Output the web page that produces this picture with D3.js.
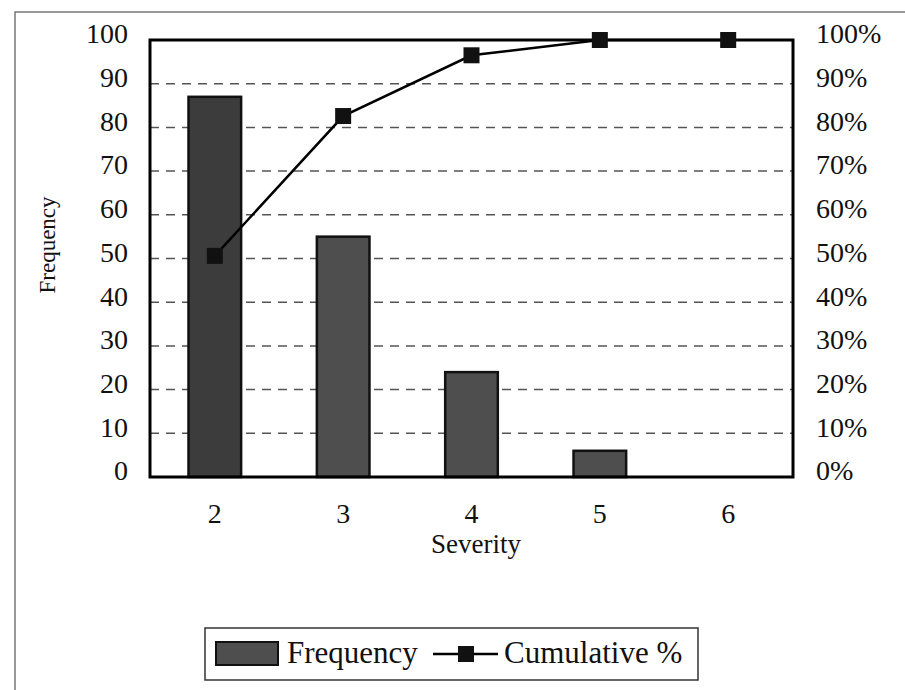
<!doctype html>
<html lang="en">
<head>
<meta charset="UTF-8">
<title>Pareto</title>
<script src="https://d3js.org/d3.v7.min.js"></script>
<style>
  body { margin: 0; background: #fff; }
  text { font-family: "Liberation Serif", "DejaVu Serif", serif; fill: #111; }
</style>
</head>
<body>
<div id="chart-area"></div>
<script>
// data
const severity = ['2', '3', '4', '5', '6'];
const frequency = [87, 55, 24, 6, 0];
const cumulative = [50.6, 82.6, 96.5, 100, 100];
const leftTicks = [0, 10, 20, 30, 40, 50, 60, 70, 80, 90, 100];
const rightTicks = [0, 10, 20, 30, 40, 50, 60, 70, 80, 90, 100];

const W = 905, H = 690;
const plot = { left: 150, right: 793, top: 40, bottom: 477 };

const svg = d3.select('#chart-area')
    .append('svg')
    .attr('width', W)
    .attr('height', H);

// outer frame
svg.append('rect')
    .attr('x', 15).attr('y', 12)
    .attr('width', 900).attr('height', 700)
    .attr('fill', 'none')
    .attr('stroke', '#777')
    .attr('stroke-width', 1.5);

const x = d3.scaleBand()
    .domain(severity)
    .range([plot.left, plot.right])
    .paddingInner(0.59)
    .paddingOuter(0.3);

const yL = d3.scaleLinear().domain([0, 100]).range([plot.bottom, plot.top]);
const yR = d3.scaleLinear().domain([0, 100]).range([plot.bottom, plot.top]);

// gridlines
svg.append('g')
    .selectAll('line')
    .data(leftTicks.filter(d => d > 0 && d < 100))
    .enter()
    .append('line')
    .attr('x1', plot.left).attr('x2', plot.right)
    .attr('y1', d => yL(d)).attr('y2', d => yL(d))
    .attr('stroke', '#555')
    .attr('stroke-width', 1.5)
    .attr('stroke-dasharray', '9,7');

// bars
svg.append('g')
    .selectAll('rect')
    .data(frequency)
    .enter()
    .append('rect')
    .attr('x', (d, i) => x(severity[i]))
    .attr('y', d => yL(d))
    .attr('width', x.bandwidth())
    .attr('height', d => yL(0) - yL(d))
    .attr('fill', (d, i) => i === 0 ? '#3c3c3c' : '#4e4e4e')
    .attr('stroke', d => d > 0 ? '#111' : 'none')
    .attr('stroke-width', 2.5);

// plot border
svg.append('rect')
    .attr('x', plot.left).attr('y', plot.top)
    .attr('width', plot.right - plot.left)
    .attr('height', plot.bottom - plot.top)
    .attr('fill', 'none')
    .attr('stroke', '#000')
    .attr('stroke-width', 3);

// cumulative line
const cx = (d, i) => x(severity[i]) + x.bandwidth() / 2;
svg.append('path')
    .datum(cumulative)
    .attr('d', d3.line().x(cx).y(d => yR(d)))
    .attr('fill', 'none')
    .attr('stroke', '#000')
    .attr('stroke-width', 2.5);

svg.append('g')
    .selectAll('rect')
    .data(cumulative)
    .enter()
    .append('rect')
    .attr('x', (d, i) => cx(d, i) - 8)
    .attr('y', d => yR(d) - 8)
    .attr('width', 16).attr('height', 16)
    .attr('fill', '#111');

// axes
const leftAxis = svg.append('g')
    .attr('transform', `translate(${plot.left},0)`)
    .call(d3.axisLeft(yL).tickValues(leftTicks).tickSize(0).tickPadding(22));
const rightAxis = svg.append('g')
    .attr('transform', `translate(${plot.right},0)`)
    .call(d3.axisRight(yR).tickValues(rightTicks).tickSize(0).tickPadding(23)
        .tickFormat(d => d + '%'));
const bottomAxis = svg.append('g')
    .attr('transform', `translate(0,${plot.bottom})`)
    .call(d3.axisBottom(x).tickSize(0).tickPadding(0));

[leftAxis, rightAxis, bottomAxis].forEach(g => {
    g.select('.domain').remove();
    g.selectAll('text')
        .style('font-family', '"Liberation Serif", serif')
        .style('font-size', '28px')
        .attr('fill', '#111');
});
leftAxis.selectAll('text').attr('dy', '0.1em');
rightAxis.selectAll('text').attr('dy', '0.1em');
bottomAxis.selectAll('text').attr('y', 46).attr('dy', null);

// axis titles
svg.append('text')
    .attr('x', 476).attr('y', 553)
    .attr('text-anchor', 'middle')
    .style('font-size', '27px')
    .text('Severity');

svg.append('text')
    .attr('transform', 'translate(55,245) rotate(-90)')
    .attr('text-anchor', 'middle')
    .style('font-size', '23px')
    .text('Frequency');

// legend
const lg = svg.append('g');
lg.append('rect')
    .attr('x', 205).attr('y', 628)
    .attr('width', 493).attr('height', 52)
    .attr('fill', '#fff')
    .attr('stroke', '#333')
    .attr('stroke-width', 1.5);
lg.append('rect')
    .attr('x', 216).attr('y', 642)
    .attr('width', 62).attr('height', 23)
    .attr('fill', '#4e4e4e')
    .attr('stroke', '#111')
    .attr('stroke-width', 2);
lg.append('text')
    .attr('x', 287).attr('y', 663)
    .style('font-size', '31px')
    .text('Frequency');
lg.append('line')
    .attr('x1', 433).attr('x2', 498)
    .attr('y1', 654).attr('y2', 654)
    .attr('stroke', '#000')
    .attr('stroke-width', 2.5);
lg.append('rect')
    .attr('x', 458).attr('y', 646)
    .attr('width', 16).attr('height', 16)
    .attr('fill', '#111');
lg.append('text')
    .attr('x', 504).attr('y', 663)
    .style('font-size', '31px')
    .text('Cumulative %');
</script>
</body>
</html>
